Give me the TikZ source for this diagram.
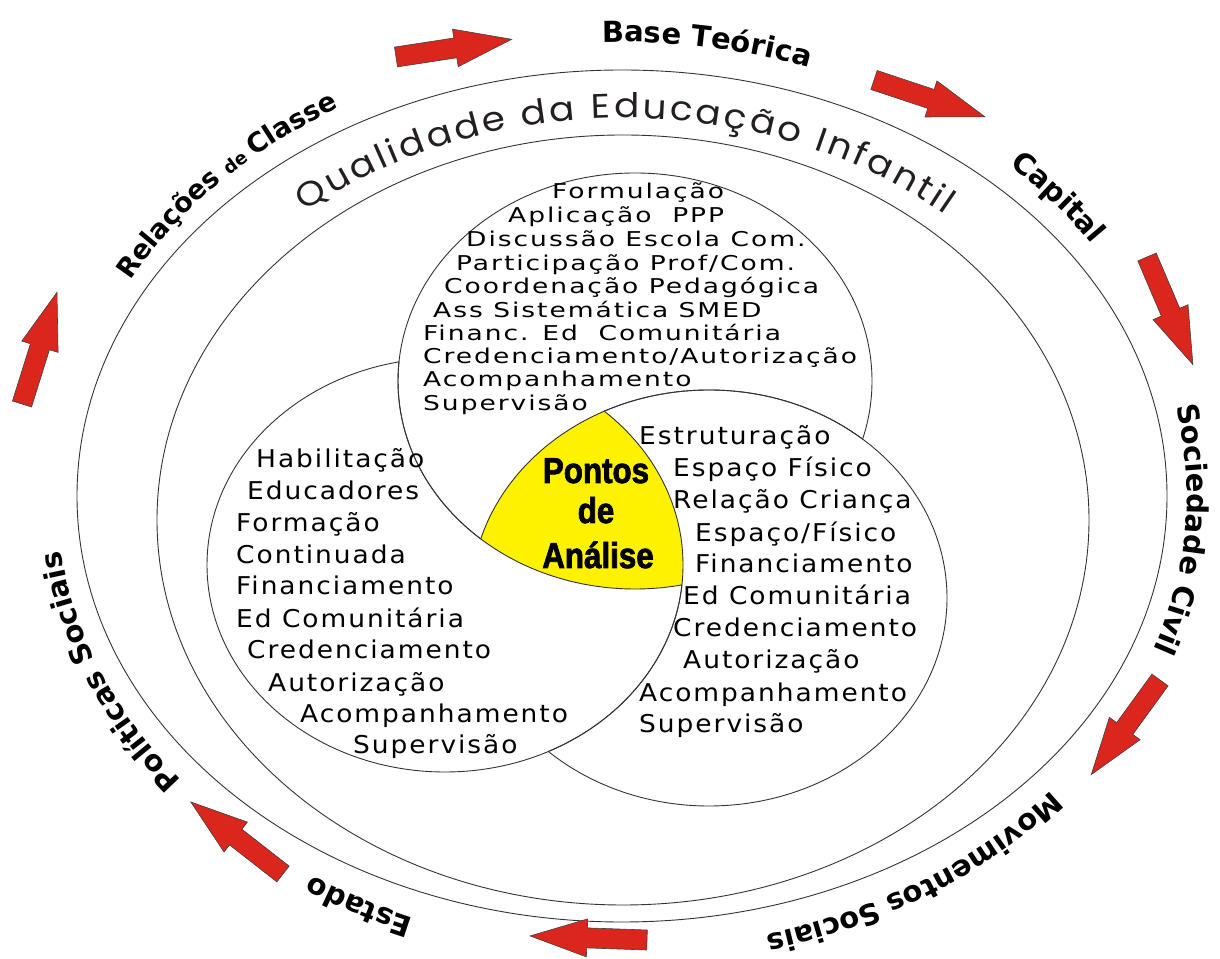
\documentclass[tikz,border=0pt]{standalone}
\usepackage{fontspec}
\usetikzlibrary{decorations.text}
\newfontfamily\listfont[FakeStretch=1.08,LetterSpace=8]{DejaVu Sans}
\newfontfamily\topfont[FakeStretch=1.3,LetterSpace=9.6]{DejaVu Sans}
\newfontfamily\pontosfont[FakeStretch=0.87,FakeBold=2]{Liberation Sans}
\newfontfamily\labelfont{DejaVu Sans}
\newfontfamily\qualfont[FakeStretch=1.1]{Poppins}
\newcommand{\lbl}{\labelfont\bfseries\fontsize{29}{32}\selectfont}
\newcommand{\lblmid}{\labelfont\bfseries\fontsize{27}{30}\selectfont}
\newcommand{\lblsmall}{\labelfont\bfseries\fontsize{18}{22}\selectfont}
\definecolor{arrowred}{RGB}{218,38,29}
\definecolor{pontoyellow}{RGB}{255,242,0}
\definecolor{qualgray}{RGB}{35,31,32}

\tikzset{
  ring/.style={draw=black!80, line width=0.9pt},
  redarrow/.style={fill=arrowred, draw=black!75, line width=0.6pt},
  sidetext/.style={font=\listfont\fontsize{24.5}{30}\selectfont, anchor=base west, inner sep=0pt},
  toptext/.style={font=\topfont\fontsize{20.4}{24}\selectfont, anchor=base west, inner sep=0pt},
  pontos/.style={font=\pontosfont\bfseries\fontsize{36}{42}\selectfont, anchor=base, inner sep=0pt}
}

% the three sets
\def\topring{(635,577) ellipse [x radius=237pt, y radius=208pt]}
\def\leftring{(445,393) ellipse [x radius=238pt, y radius=207pt]}
\def\rightring{(709,360) ellipse [x radius=238pt, y radius=208pt]}

\begin{document}
\begin{tikzpicture}[x=1pt,y=1pt]
  \useasboundingbox (0,0) rectangle (1220,958);

  % outer rings
  \draw[ring] (622,462) ellipse [x radius=545pt, y radius=426pt];
  \draw[ring] (623,438) ellipse [x radius=466pt, y radius=385pt];

  % yellow centre
  \begin{scope}
    \clip \topring;
    \clip \leftring;
    \fill[pontoyellow] \rightring;
  \end{scope}

  % left set outline
  \begin{scope}
    \clip \rightring;
    \draw[ring] \leftring;
  \end{scope}
  \begin{scope}[even odd rule]
    \clip (0,0) rectangle (1220,958) \topring;
    \draw[ring] \leftring;
  \end{scope}
  % right set outline
  \begin{scope}
    \clip \topring;
    \draw[ring] \rightring;
  \end{scope}
  \begin{scope}[even odd rule]
    \clip (0,0) rectangle (1220,958) \leftring;
    \draw[ring] \rightring;
  \end{scope}
  % top set outline
  \begin{scope}
    \clip \leftring;
    \draw[ring] \topring;
  \end{scope}
  \begin{scope}[even odd rule]
    \clip (0,0) rectangle (1220,958) \rightring;
    \draw[ring] \topring;
  \end{scope}

  % top set
  \node[toptext] (t1) at (552,759) {Formulação};
  \node[toptext] (t2) at (508,735) {Aplicação\ \ PPP};
  \node[toptext] (t3) at (466,711) {Discussão Escola Com.};
  \node[toptext] (t4) at (456,687) {Participação Prof/Com.};
  \node[toptext] (t5) at (444,664) {Coordenação Pedagógica};
  \node[toptext] (t6) at (433,640) {Ass Sistemática SMED};
  \node[toptext] (t7) at (423,617) {Financ. Ed\ \ Comunitária};
  \node[toptext] (t8) at (423,594) {Credenciamento/Autorização};
  \node[toptext] (t9) at (423,571) {Acompanhamento};
  \node[toptext] (t10) at (423,547) {Supervisão};

  % left set
  \node[sidetext] (l1) at (256,490) {Habilitação};
  \node[sidetext] (l2) at (247,458) {Educadores};
  \node[sidetext] (l3) at (236,426) {Formação};
  \node[sidetext] (l4) at (236,394) {Continuada};
  \node[sidetext] (l5) at (236,363) {Financiamento};
  \node[sidetext] (l6) at (236,330) {Ed Comunitária};
  \node[sidetext] (l7) at (247,299) {Credenciamento};
  \node[sidetext] (l8) at (268,266) {Autorização};
  \node[sidetext] (l9) at (300,235) {Acompanhamento};
  \node[sidetext] (l10) at (353,204) {Supervisão};

  % right set
  \node[sidetext] (r1) at (639,513) {Estruturação};
  \node[sidetext] (r2) at (673,481) {Espaço Físico};
  \node[sidetext] (r3) at (673,449) {Relação Criança};
  \node[sidetext] (r4) at (695,416) {Espaço/Físico};
  \node[sidetext] (r5) at (695,385) {Financiamento};
  \node[sidetext] (r6) at (683,353) {Ed Comunitária};
  \node[sidetext] (r7) at (673,321) {Credenciamento};
  \node[sidetext] (r8) at (683,289) {Autorização};
  \node[sidetext] (r9) at (639,256) {Acompanhamento};
  \node[sidetext] (r10) at (639,225) {Supervisão};

  % centre
  \node[pontos] (p1) at (596,475) {Pontos};
  \node[pontos] (p2) at (596,435) {de};
  \node[pontos] (p3) at (598,390) {Análise};

  % ring title
  \path[decorate, decoration={text along path, text align={fit to path},
      text={|\qualfont\fontsize{34}{38}\selectfont\color{qualgray}|Qualidade da Educação Infantil}}]
    (623,438) ++(130:495pt and 402pt) arc[start angle=130, end angle=49.4, x radius=495pt, y radius=402pt];

  % outer labels
  \path[decorate, decoration={text along path, text align=center, text={|\lbl|Base Teórica}}]
    (622,462) ++(111:565pt and 454pt) arc[start angle=111, end angle=51, x radius=565pt, y radius=454pt];
  \path[decorate, decoration={text along path, text align=center, text={|\lbl|Capital}}]
    (622,462) ++(68.7:565pt and 454pt) arc[start angle=68.7, end angle=8.7, x radius=565pt, y radius=454pt];
  \path[decorate, decoration={text along path, text align=center, text={|\lbl|Sociedade Civil}}]
    (622,462) ++(26:565pt and 454pt) arc[start angle=26, end angle=-34, x radius=565pt, y radius=454pt];
  \path[decorate, decoration={text along path, text align=center, text={|\lbl|Movimentos Sociais}}]
    (622,462) ++(-27:565pt and 454pt) arc[start angle=-27, end angle=-87, x radius=565pt, y radius=454pt];
  \path[decorate, decoration={text along path, text align=center, text={|\lbl|Estado}}]
    (622,462) ++(271.4:565pt and 454pt) arc[start angle=271.4, end angle=211.4, x radius=565pt, y radius=454pt];
  \path[decorate, decoration={text along path, text align=center, text={|\lbl|Políticas Sociais}}]
    (622,462) ++(232:565pt and 454pt) arc[start angle=232, end angle=172, x radius=565pt, y radius=454pt];
  \path[decorate, decoration={text along path, text align=center, text={|\lblmid|Relações |\lblsmall|de |\lblmid|Classe}}]
    (622,462) ++(167:560pt and 450pt) arc[start angle=167, end angle=107, x radius=560pt, y radius=450pt];

  % arrows round the rings
  \foreach \x/\y/\a in {396/901/8.7, 874/878/-18.4, 1147/701/-66.9, 1160/278/-126,
                        647/18/178, 283/84/142, 22/554/72.6}
    \draw[redarrow, shift={(\x,\y)}, rotate=\a]
      (0,-10) -- (60,-10) -- (60,-19) -- (117,0) -- (60,19) -- (60,10) -- (0,10) -- cycle;
\end{tikzpicture}
\end{document}
